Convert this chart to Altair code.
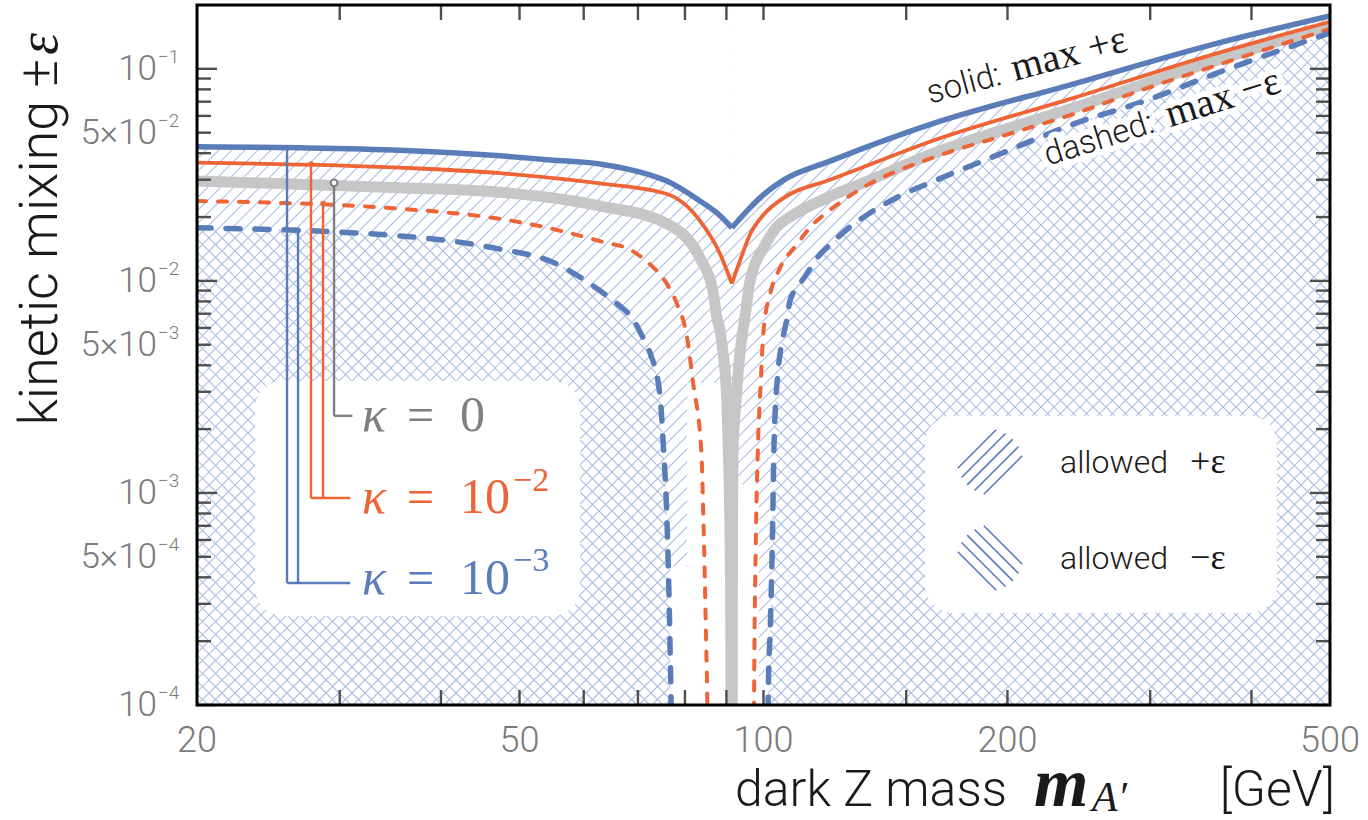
import math
import altair as alt
import pandas as pd

W, H = 1133, 700

BLUE = "#5A7DBA"
ORANGE = "#EE6436"
GREY = "#C6C6C6"
GREY_DARK = "#7F7F7F"
HATCH = "#ABBDE2"
TICK = "#4F4F4F"
LABEL = "#7A7A7A"
INK = "#1A1A1A"
SANS = "Roboto"
SERIF = "Liberation Serif"

# ---------------------------------------------------------------------------
# Maximal kinetic mixing vs dark Z mass [GeV]
# kappa = 1e-3, +eps (solid blue)
blue_solid_m = [20, 26.8, 35.6, 47.3, 54.5, 62.8, 72.4, 76.0, 83.5, 88.4, 91.4,
                96.2, 100.0, 105.7, 120.8, 131.9, 161.4, 241.5, 360.6, 500]
blue_solid_eps = [0.0429, 0.0424, 0.0413, 0.0389, 0.0372, 0.0356, 0.0316, 0.0296, 0.0238, 0.0203, 0.0178,
                  0.0221, 0.0255, 0.0298, 0.0367, 0.0418, 0.0550, 0.0850, 0.1312, 0.1778]

# kappa = 1e-2, +eps (solid orange)
orange_solid_m = [20, 35.6, 47.3, 62.8, 76.0, 83.5, 88.4, 91.4,
                  93.5, 96.2, 100.0, 105.7, 120.8, 131.9, 161.4, 241.5, 360.6, 500]
orange_solid_eps = [0.0361, 0.0342, 0.0322, 0.0288, 0.0257, 0.0192, 0.0134, 0.0097,
                    0.0124, 0.0165, 0.0205, 0.0245, 0.0300, 0.0341, 0.0457, 0.0730, 0.1177, 0.1666]

# kappa = 0 (thick grey), falls to zero at the Z pole
grey_m = [20, 35.6, 47.3, 62.8, 76.0, 83.5, 86.6, 87.6, 88.4, 89.1, 90.1, 90.5, 90.8, 91.1, 91.2, 91.25,
          91.45, 91.5, 91.52, 91.6, 91.7, 92.5, 93.6, 94.3, 95.1, 96.0, 97.0, 100.0, 103.9, 107.8,
          120.8, 131.9, 161.4, 241.5, 360.6, 500]
grey_eps = [0.0296, 0.0275, 0.0262, 0.0226, 0.0186, 0.0128, 0.00897, 0.00669, 0.00581, 0.00467, 0.00272,
            0.00158, 0.000917, 0.0003, 0.0001, 0.00004,
            0.00004, 0.0001, 0.0003, 0.000917, 0.00158, 0.00272, 0.00467, 0.00581, 0.0072, 0.0095, 0.0112,
            0.0143, 0.0180, 0.0200, 0.0250, 0.0287, 0.0397, 0.0655, 0.1091, 0.1595]

# kappa = 1e-2, -eps (dashed orange)
orange_dash_m = [20, 35.6, 50.5, 62.8, 69.0, 72.4, 76.0, 78.2, 80.5, 81.9, 83.8, 84.3, 85.0, 85.25, 85.3,
                 97.3, 97.35, 97.8, 98.4, 99.2, 100.0, 101.9, 104.8, 110.0, 115.1, 119.1, 131.9, 161.4,
                 197.4, 241.5, 295.6, 360.6, 500]
orange_dash_eps = [0.0238, 0.0219, 0.0188, 0.0154, 0.0138, 0.0120, 0.00968, 0.00779, 0.00538, 0.00327,
                   0.00158, 0.000762, 0.00018, 0.0001, 0.00003,
                   0.00003, 0.0001, 0.00053, 0.00158, 0.00327, 0.00581, 0.00868, 0.0115, 0.0149, 0.0185,
                   0.0207, 0.0272, 0.0380, 0.0483, 0.0613, 0.0804, 0.1033, 0.1544]

# kappa = 1e-3, -eps (dashed blue)
blue_dash_m = [20, 35.6, 46.0, 55.6, 62.8, 66.0, 69.0, 71.0, 72.4, 74.5, 75.3, 76.0, 76.7, 76.9, 77.0,
               101.2, 101.3, 102.0, 102.5, 103.0, 103.9, 106.9, 107.8, 110.9, 113.1, 116.4, 120.8, 127.9,
               135.3, 147.4, 161.4, 197.4, 241.5, 295.6, 360.6, 500]
blue_dash_eps = [0.0178, 0.0163, 0.0144, 0.0120, 0.0090, 0.00779, 0.0066, 0.0054, 0.0046, 0.0029, 0.00158,
                 0.000762, 0.00018, 0.0001, 0.00001,
                 0.00001, 0.0001, 0.00025, 0.000533, 0.00158, 0.00327, 0.00669, 0.00804, 0.00968, 0.0108,
                 0.0128, 0.0148, 0.0180, 0.0209, 0.0252, 0.0293, 0.0402, 0.0550, 0.0706, 0.0947, 0.1478]

# unshaded pockets inside the Z-pole notch: mass span and upper edge
notch_m1 = [76.7, 80.5, 91.35, 98.65]
notch_m2 = [80.5, 91.35, 98.65, 101.35]
notch_top = [4.5e-4, 0.0033, 0.0011, 1.3e-4]

# axis ticks and labels
x_tick_values = [30, 40, 50, 60, 70, 80, 90, 100, 150, 200, 300, 400]
x_label_values = [20, 50, 100, 200, 500]
y_decades = [1e-4, 1e-3, 1e-2, 1e-1]
y_mantissas = [2, 3, 4, 5, 6, 7, 8, 9]
y_label_values = [0.1, 0.05, 0.01, 0.005, 0.001, 0.0005, 0.0001]
y_label_base = ["10", "5×10", "10", "5×10", "10", "5×10", "10"]
y_label_exp = ["−1", "−2", "−2", "−3", "−3", "−4", "−4"]

Y_MIN, Y_MAX = 1e-4, 0.2
xs = alt.Scale(type="log", domain=[20, 500], nice=False)
ys = alt.Scale(type="log", domain=[Y_MIN, Y_MAX], nice=False)


def X(f="m"):
    return alt.X(f"{f}:Q", scale=xs, axis=None)


def Y(f="eps"):
    return alt.Y(f"{f}:Q", scale=ys, axis=None, stack=None)


def frame(ms, es, split=None):
    df = pd.DataFrame({"m": ms, "eps": es})
    df["top"] = Y_MAX
    if split is None:
        return df.assign(branch="all")
    left = df[df.m <= split].assign(branch="L")
    right = df[df.m >= split].assign(branch="R")
    return pd.concat([left, right], ignore_index=True)


blue_solid = frame(blue_solid_m, blue_solid_eps, 91.4)
orange_solid = frame(orange_solid_m, orange_solid_eps, 91.4)
grey_curve = frame(grey_m, grey_eps, 91.35)
orange_dash = frame(orange_dash_m, orange_dash_eps)
blue_dash = frame(blue_dash_m, blue_dash_eps)


def hatch(forward, step=13):
    n0 = -int(H / step) - 2
    n1 = int(W / step) + 2
    if forward:   # "/" strokes
        calc = dict(hx1=f"datum.k*{step}", hy1=f"{H}", hx2=f"datum.k*{step}+{H}", hy2="0")
    else:         # "\" strokes
        calc = dict(hx1=f"datum.k*{step}", hy1="0", hx2=f"datum.k*{step}+{H}", hy2=f"{H}")
    return (
        alt.Chart(alt.sequence(n0, n1, 1, as_="k"))
        .transform_calculate(**calc)
        .mark_rule(clip=True, color=HATCH, strokeWidth=1.15)
        .encode(x=alt.X("hx1:Q", scale=None), y=alt.Y("hy1:Q", scale=None),
                x2="hx2:Q", y2="hy2:Q")
    )


def white_above(df):
    return alt.Chart(df).mark_area(color="white", opacity=1, clip=True, orient="vertical",
                                   interpolate="monotone").encode(
        x=X(), y=Y(), y2="top:Q", detail="branch:N")


def curve(df, color, width, dash=None):
    kw = dict(color=color, strokeWidth=width, clip=True, interpolate="monotone")
    if dash:
        kw.update(strokeDash=dash, strokeCap="round")
    return alt.Chart(df).mark_line(**kw).encode(x=X(), y=Y(), detail="branch:N")


layers = []

# shaded regions: "\" where -eps allowed, "/" where +eps allowed (kappa = 1e-3)
layers.append(hatch(False))
layers.append(white_above(blue_dash))
layers.append(hatch(True))
layers.append(white_above(blue_solid))
notch = pd.DataFrame({"n1": notch_m1, "n2": notch_m2, "t1": notch_top, "t2": [Y_MIN] * len(notch_top)})
layers.append(alt.Chart(notch).mark_rect(color="white").encode(
    x=alt.X("n1:Q", scale=xs, axis=None), x2="n2:Q",
    y=alt.Y("t1:Q", scale=ys, axis=None), y2="t2:Q"))

# white legend panels
boxes = pd.DataFrame({"m1": [23.6, 158.2], "m2": [59.4, 430.0],
                      "e1": [0.00338, 0.00231], "e2": [0.000263, 0.000272]})
layers.append(alt.Chart(boxes).mark_rect(color="white", cornerRadius=28).encode(
    x=alt.X("m1:Q", scale=xs, axis=None), x2="m2:Q",
    y=alt.Y("e1:Q", scale=ys, axis=None), y2="e2:Q"))

# curves
layers.append(curve(grey_curve, GREY, 11))
layers.append(curve(orange_dash, ORANGE, 4, dash=[9, 12]))
layers.append(curve(blue_dash, BLUE, 5.5, dash=[14, 15]))
layers.append(curve(orange_solid, ORANGE, 3.8))
layers.append(curve(blue_solid, BLUE, 5.5))

# legend leaders from each curve down to its kappa label
leaders = pd.DataFrame({
    "m1": [25.83, 26.65, 25.83, 27.65, 28.61, 27.65, 29.52, 29.52],
    "m2": [25.83, 26.65, 30.9, 27.65, 28.61, 30.9, 29.52, 31.1],
    "e1": [0.0425, 0.0173, 0.000376, 0.0356, 0.0232, 0.000947, 0.0290, 0.00231],
    "e2": [0.000376, 0.000376, 0.000376, 0.000947, 0.000947, 0.000947, 0.00231, 0.00231],
    "c": [BLUE, BLUE, BLUE, ORANGE, ORANGE, ORANGE, GREY_DARK, GREY_DARK],
})
layers.append(alt.Chart(leaders).mark_rule(strokeWidth=2.4).encode(
    x=alt.X("m1:Q", scale=xs, axis=None), x2="m2:Q",
    y=alt.Y("e1:Q", scale=ys, axis=None), y2="e2:Q",
    color=alt.Color("c:N", scale=None)))
dots = pd.DataFrame({"m": [25.83, 26.65, 27.65, 28.61], "eps": [0.0425, 0.0173, 0.0356, 0.0232],
                     "c": [BLUE, BLUE, ORANGE, ORANGE]})
layers.append(alt.Chart(dots).mark_circle(size=30, opacity=1).encode(
    x=X(), y=Y(), color=alt.Color("c:N", scale=None)))
layers.append(alt.Chart(pd.DataFrame({"m": [29.52], "eps": [0.0290]})).mark_point(
    size=45, filled=True, fill="white", stroke=GREY_DARK, strokeWidth=2, opacity=1).encode(x=X(), y=Y()))

# kappa labels
kap = pd.DataFrame({
    "m": [31.97, 31.97, 31.97], "eps": [0.00196, 0.000804, 0.000334],
    "c": [GREY_DARK, ORANGE, BLUE]})
layers.append(alt.Chart(kap).mark_text(text="κ", font=SERIF, fontStyle="italic", fontSize=50,
                                       align="left", baseline="alphabetic").encode(
    x=X(), y=Y(), color=alt.Color("c:N", scale=None)))
kap_rest = pd.DataFrame({
    "m": [36.32, 42.22, 36.32, 42.22, 49.08, 36.32, 42.22, 49.08],
    "eps": [0.00196, 0.00196, 0.000804, 0.000804, 0.00102, 0.000334, 0.000334, 0.000429],
    "t": ["=", "0", "=", "10", "−2", "=", "10", "−3"],
    "fs": [48, 50, 48, 50, 34, 48, 50, 34],
    "c": [GREY_DARK, GREY_DARK, ORANGE, ORANGE, ORANGE, BLUE, BLUE, BLUE]})
layers.append(alt.Chart(kap_rest).mark_text(font=SERIF, align="left", baseline="alphabetic").encode(
    x=X(), y=Y(), text="t:N", size=alt.Size("fs:Q", scale=None),
    color=alt.Color("c:N", scale=None)))


# hatch legend
def icon_rows(cx, cy, up, name):
    rows = []
    s = 1 / math.sqrt(2)
    dx, dy = (s, -s) if up else (s, s)
    px, py = -dy, dx
    for k in range(-2, 3):
        d = 9.2 * k
        half = math.sqrt(max(34 ** 2 - d ** 2, 0)) * 0.95
        ox, oy = cx + px * d, cy + py * d
        rows.append({"ix1": ox - dx * half, "iy1": oy - dy * half,
                     "ix2": ox + dx * half, "iy2": oy + dy * half, "g": f"{name}{k}"})
    return rows


icons = pd.DataFrame(icon_rows(793, 457, True, "p") + icon_rows(793, 553, False, "n"))
layers.append(alt.Chart(icons).mark_rule(color=BLUE, strokeWidth=1.6).encode(
    x=alt.X("ix1:Q", scale=None), y=alt.Y("iy1:Q", scale=None), x2="ix2:Q", y2="iy2:Q"))
allowed = pd.DataFrame({"m": [232.2, 232.2], "eps": [0.00124, 0.000438]})
layers.append(alt.Chart(allowed).mark_text(text="allowed", font=SANS, fontWeight=300, fontSize=32,
                                           color=INK, align="left", baseline="alphabetic").encode(
    x=X(), y=Y()))
signs = pd.DataFrame({"m": [336.0, 336.0], "eps": [0.00124, 0.000438], "t": ["+ε", "−ε"]})
layers.append(alt.Chart(signs).mark_text(font=SERIF, fontSize=36, color=INK, align="left",
                                         baseline="alphabetic").encode(x=X(), y=Y(), text="t:N"))

# sloped notes
notes = [
    # (mass, eps, angle, sans part, serif part, serif offset)
    (160.5, 0.0684, 345, "solid:", "max +ε", 88),
    (224.4, 0.0349, 342.5, "dashed:", "max −ε", 128),
]
for m, e, ang, sans_t, serif_t, off in notes:
    d = pd.DataFrame({"m": [m], "eps": [e]})
    for halo in (True, False):
        extra = dict(stroke="white", strokeWidth=12, strokeJoin="round") if halo else {}
        layers.append(alt.Chart(d).mark_text(text=sans_t, font=SANS, fontWeight=300, fontSize=33,
                                             angle=ang, align="left", baseline="alphabetic",
                                             color=INK, **extra).encode(x=X(), y=Y()))
        layers.append(alt.Chart(d).mark_text(text=serif_t, font=SERIF, fontSize=40, angle=ang,
                                             align="left", baseline="alphabetic", dx=off,
                                             color=INK, **extra).encode(x=X(), y=Y()))

# ticks (inward, on all four sides)
y_major = pd.DataFrame({"eps": y_decades})
y_minor = pd.DataFrame({"eps": [mm * d for d in y_decades[:-1] for mm in y_mantissas]})
for df, L in ((y_major, 20), (y_minor, 14)):
    layers.append(alt.Chart(df).mark_rule(color=TICK, strokeWidth=2.4).encode(
        y=Y(), x=alt.value(0), x2=alt.value(L)))
    layers.append(alt.Chart(df).mark_rule(color=TICK, strokeWidth=2.4).encode(
        y=Y(), x=alt.value(W), x2=alt.value(W - L)))
xt = pd.DataFrame({"m": x_tick_values})
layers.append(alt.Chart(xt).mark_rule(color=TICK, strokeWidth=2.4).encode(
    x=X(), y=alt.value(H), y2=alt.value(H - 15)))
layers.append(alt.Chart(xt).mark_rule(color=TICK, strokeWidth=2.4).encode(
    x=X(), y=alt.value(0), y2=alt.value(15)))

# frame
layers.append(alt.Chart(pd.DataFrame({"a": [0]})).mark_rect(filled=False, stroke="black", strokeWidth=3).encode(
    x=alt.value(0), x2=alt.value(W), y=alt.value(0), y2=alt.value(H)))

# tick labels
ylab = pd.DataFrame({"eps": y_label_values, "base": y_label_base, "exp": y_label_exp})
layers.append(alt.Chart(ylab).mark_text(font=SANS, fontWeight=300, fontSize=35, color=LABEL,
                                        align="right", baseline="alphabetic", dy=11).encode(
    y=Y(), x=alt.value(-40), text="base:N"))
layers.append(alt.Chart(ylab).mark_text(font=SANS, fontWeight=300, fontSize=19, color=LABEL,
                                        align="left", baseline="alphabetic", dy=-6).encode(
    y=Y(), x=alt.value(-39), text="exp:N"))
xlab = pd.DataFrame({"m": x_label_values, "t": [str(v) for v in x_label_values]})
layers.append(alt.Chart(xlab).mark_text(font=SANS, fontWeight=300, fontSize=36, color=LABEL,
                                        align="center", baseline="alphabetic").encode(
    x=X(), y=alt.value(H + 47), text="t:N"))

# axis titles
one = pd.DataFrame({"a": [0]})
layers.append(alt.Chart(one).mark_text(text="kinetic mixing ±", font=SANS, fontWeight=300, fontSize=54,
                                       angle=270, align="right", baseline="alphabetic", color=INK).encode(
    x=alt.value(-140), y=alt.value(54)))
layers.append(alt.Chart(one).mark_text(text="ε", font=SERIF, fontStyle="italic", fontSize=56,
                                       angle=270, align="left", baseline="alphabetic", color=INK).encode(
    x=alt.value(-140), y=alt.value(50)))
layers.append(alt.Chart(one).mark_text(text="dark Z mass", font=SANS, fontWeight=300, fontSize=50,
                                       align="left", baseline="alphabetic", color=INK).encode(
    x=alt.value(538), y=alt.value(801)))
layers.append(alt.Chart(one).mark_text(text="m", font=SERIF, fontStyle="italic", fontWeight="bold",
                                       fontSize=70, align="left", baseline="alphabetic", color=INK).encode(
    x=alt.value(837), y=alt.value(801)))
layers.append(alt.Chart(one).mark_text(text="A′", font=SERIF, fontStyle="italic",
                                       fontSize=42, align="left", baseline="alphabetic", color=INK).encode(
    x=alt.value(895), y=alt.value(806)))
layers.append(alt.Chart(one).mark_text(text="[GeV]", font=SANS, fontWeight=300, fontSize=50,
                                       align="right", baseline="alphabetic", color=INK).encode(
    x=alt.value(1138), y=alt.value(801)))

chart = (
    alt.layer(*layers)
    .properties(width=W, height=H, background="white",
                autosize=alt.AutoSizeParams(type="none"),
                padding={"left": 197, "top": 5, "right": 38, "bottom": 115})
    .configure_view(strokeWidth=0)
)

chart.save("out.html", embed_options={"renderer": "svg", "actions": False})
